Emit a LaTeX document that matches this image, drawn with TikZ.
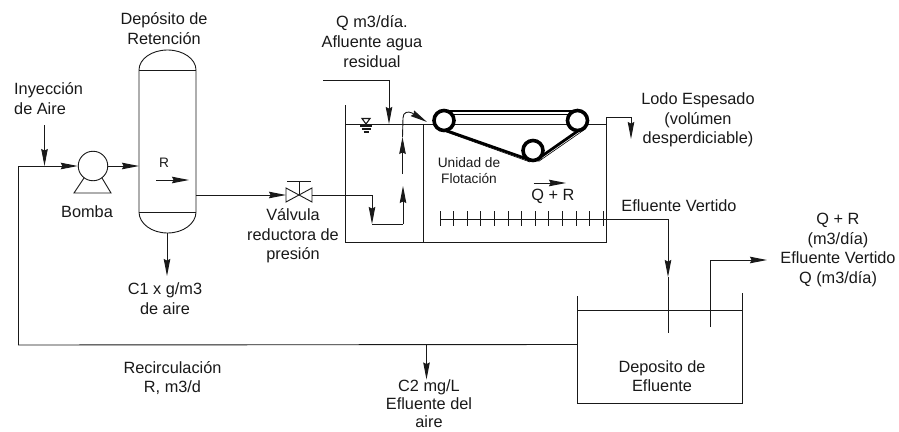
\documentclass[tikz,border=0pt]{standalone}
\usepackage{fontspec}
\setmainfont{Liberation Sans}
\usetikzlibrary{arrows.meta,calc}
\tikzset{
 x=1pt,y=-1pt,
 pipe/.style={draw=black!90,line width=0.9pt},
 flow/.style={pipe,-{Stealth[length=17pt,width=6.5pt,inset=1.5pt]}},
 lbl/.style={align=center,inner sep=0pt,font=\fontsize{16.3}{19.6}\selectfont,text=black!90},
 lbls/.style={align=center,inner sep=0pt,font=\fontsize{13.7}{16}\selectfont,text=black!90},
 roller/.style={circle,draw=black,line width=3.6pt,minimum size=20pt,inner sep=0pt,fill=white},
 belt/.style={draw=black,line width=2.8pt},
 pumpb/.style={circle,draw=black!90,line width=0.9pt,minimum size=29.5pt,inner sep=0pt,fill=white},
}
\begin{document}
\begin{tikzpicture}
\useasboundingbox (0,0) rectangle (899,431);
% coordinates
\coordinate (airtop) at (44.5,125);
\coordinate (airin) at (44.5,166);
\coordinate (recircL) at (18,345);
\coordinate (recircT) at (18,166);
\coordinate (tankIn) at (139,166);
\coordinate (tankOut) at (196,195);
\coordinate (tankBot) at (167,233);
\coordinate (c1tip) at (167,276);
\coordinate (valveL) at (286,195);
\coordinate (valveR) at (312,195);
\coordinate (valveC) at (299,195);
\coordinate (rstart) at (156,180);
\coordinate (rend) at (189,180);
% pump
\node[pumpb] (pump) at (93,166) {};
\draw[pipe] (84,178) -- (74,193) -- (111,193) -- (102,178);
\draw[flow] (recircL) -- (recircT) -- (pump.west);
\draw[flow] (airtop) -- (airin);
\draw[flow] (pump.east) -- (tankIn);
% vessel
\draw[pipe] (139,70) -- (139,212) arc[start angle=180,end angle=0,x radius=28.5,y radius=21] -- (196,70) arc[start angle=0,end angle=-180,x radius=28.5,y radius=20];
\draw[pipe] (139,70) -- (196,70) (139,212) -- (196,212);
\draw[flow] (rstart) -- (rend);
\draw[flow] (tankBot) -- (c1tip);
% valve
\draw[flow] (tankOut) -- (valveL);
\draw[pipe] (286,188) -- (286,202) -- (312,188) -- (312,202) -- cycle;
\draw[pipe] (valveC) -- (299,181) (287,181) -- (311,181);
% to flotation
\coordinate (pd1) at (372,195);
\coordinate (pd2) at (372,224);
\coordinate (pd3) at (403,224);
\coordinate (pd4) at (403,186);
\coordinate (pd5) at (402.5,174);
\coordinate (pd6) at (402.5,137);
\coordinate (pd7) at (427,122);
\draw[flow] (valveR) -- (pd1) -- (pd2);
\draw[pipe] (pd2) -- (pd3);
\draw[flow] (pd3) -- (pd4);
\draw[flow] (pd5) -- (pd6);
\draw[pipe] (pd6) -- (403,118) .. controls (403,112) and (408,111) .. (412,113);
\draw[flow] (412,113) -- (pd7);
% flotation tank
\draw[pipe] (345,105) -- (345,242) -- (606,242) -- (606,124);
\draw[pipe] (423,124) -- (423,242);
\draw[pipe] (345,124) -- (606,124);
\draw[flow] (606,124) -- (606,117) -- (631,117) -- (631,139);
% level mark
\draw[pipe,line width=1.1pt] (362,118.5) -- (370,118.5) -- (366,124) -- cycle;
\draw[pipe,line width=1.1pt] (360,126) -- (372,126) (361.5,129) -- (370.5,129) (363.5,132) -- (368.5,132);
% inflow
\coordinate (infl) at (323,80);
\coordinate (infb) at (389,80);
\coordinate (inft) at (389,124);
\draw[flow] (infl) -- (infb) -- (inft);
% conveyor
\draw[belt] (444,111) -- (577,111);
\draw[belt] (436,127) -- (530,160);
\draw[belt] (537,159.5) -- (585,126);
\draw[draw=black,line width=.6pt] (444,114) -- (577,114);
\draw[draw=black,line width=.6pt] (438,129) -- (530,162) (538.5,161.5) -- (586,128.5);
\node[roller] (r1) at (444,120.5) {};
\node[roller] (r2) at (577.5,120.5) {};
\node[roller] (r3) at (533,150.5) {};
% diffuser
\coordinate (dif0) at (440,219);
\coordinate (dif1) at (668,219);
\coordinate (dif2) at (668,277);
\coordinate (dif3) at (668,333);
\draw[flow] (dif0) -- (dif1) -- (dif2);
\draw[pipe] (dif2) -- (dif3);
\foreach \i in {0,...,12} \draw[pipe] (440+13.6*\i,211) -- (440+13.6*\i,226);
\coordinate (qr0) at (533.5,183);
\coordinate (qr1) at (566,183);
\draw[flow] (qr0) -- (qr1);
% effluent tank
\draw[pipe] (577,296) -- (577,403) -- (742,403) -- (742,293);
\draw[pipe] (577,310) -- (742,310);
\coordinate (op0) at (710,327);
\coordinate (op1) at (710,260);
\coordinate (op2) at (767,260);
\draw[flow] (op0) -- (op1) -- (op2);
% recirc
\coordinate (recircR) at (577,344.5);
\draw[pipe] (recircL) -- (recircR);
\coordinate (c2a) at (426.5,345);
\coordinate (c2b) at (426.5,379.5);
\draw[flow] (c2a) -- (c2b);
% texts
\node[lbl] (t1) at (164,28.5) {Depósito de\\Retención};
\node[lbl,align=left,anchor=west] (t2) at (14,98.5) {Inyección\\de Aire};
\node[lbl] (t3) at (87,212) {Bomba};
\node[lbl] (t4) at (293,236) {Válvula\\reductora de\\presión};
\node[lbls] (t5) at (164,163) {R};
\node[lbl] (t6) at (165,298.5) {C1 x g/m3\\de aire};
\node[lbl] (t7) at (372,41.5) {Q m3/día.\\Afluente agua\\residual};
\node[lbls] (t8) at (469,171) {Unidad de\\Flotación};
\node[lbl] (t9) at (553,196) {Q + R};
\node[lbl] (t10) at (698,120) {Lodo Espesado\\(volúmen\\desperdiciable)};
\node[lbl] (t11) at (679,206) {Efluente Vertido};
\node[lbl] (t12) at (838,250) {Q + R\\(m3/día)\\Efluente Vertido\\Q (m3/día)};
\node[lbl] (t13) at (662,376) {Deposito de\\Efluente};
\node[lbl] (t14) at (172.5,378) {Recirculación\\R, m3/d};
\node[lbl,font=\fontsize{16.3}{18.2}\selectfont] (t15) at (429,403.5) {C2 mg/L\\Efluente del\\aire};
\end{tikzpicture}
\end{document}
